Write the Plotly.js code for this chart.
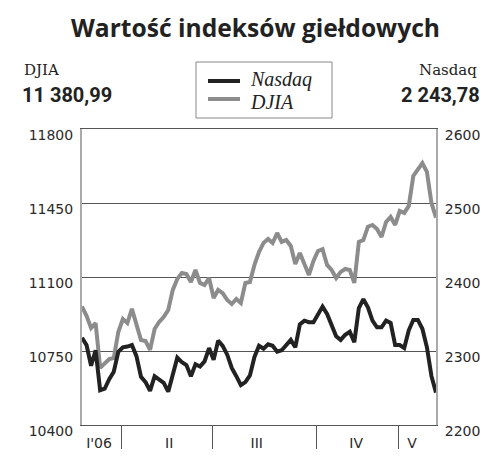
<!DOCTYPE html>
<html><head><meta charset="utf-8">
<script src="https://cdn.plot.ly/plotly-3.0.1.min.js"></script>
<style>html,body{margin:0;padding:0;background:#fff}#chart{width:500px;height:460px}</style>
</head><body><div id="chart"></div>
<script>
// Daily closes, mid-January to 12 May 2006
const nasdaq = [2318,2308,2280,2301,2247,2249,2262,2272,2299,2305,
  2306,2308,2293,2265,2258,2246,2266,2261,2257,2245,
  2270,2291,2285,2281,2266,2282,2279,2286,2304,2288,
  2314,2307,2295,2277,2266,2254,2258,2267,2292,2307,
  2303,2309,2307,2299,2301,2308,2315,2305,2336,2341,
  2339,2339,2349,2360,2350,2335,2320,2315,2322,2326,
  2312,2358,2370,2359,2341,2332,2332,2341,2338,2308,
  2308,2304,2328,2342,2342,2330,2305,2266,2243.78];
const djia = [10960,10916,10859,10882,10670,10693,10712,10717,10840,10901,
  10882,10949,10868,10802,10797,10755,10854,10887,10911,10944,
  11039,11091,11119,11114,11076,11133,11072,11062,11095,11001,
  11039,11024,10991,10972,10996,10977,11072,11076,11157,11218,
  11261,11280,11261,11308,11266,11275,11247,11162,11214,11157,
  11110,11176,11223,11232,11157,11133,11095,11124,11138,11133,
  11072,11266,11275,11338,11346,11327,11289,11360,11384,11346,
  11412,11403,11436,11578,11606,11639,11597,11450,11380.99];
const yLeftTicks = [10400, 10750, 11100, 11450, 11800];
const yRightTicks = [2200, 2300, 2400, 2500, 2600];
const monthLabels = ["I'06", "II", "III", "IV", "V"];
const monthLabelPos = [3.75, 19.2, 38.5, 60.4, 72.7];
const monthBoundaries = [8.6, 28.65, 51.6, 69.8];
const lastDjiaText = "11 380,99";
const lastNasdaqText = "2 243,78";
const titleText = "Wartość indeksów giełdowych";

const day = djia.map((_, i) => i);
const BLACK = '#222222', GREY = '#8c8c8c';
const tickFont = {family: 'DejaVu Sans', size: 14, color: '#2a2a2a'};

const traces = [
  {x: day, y: nasdaq, yaxis: 'y2', name: 'Nasdaq', type: 'scatter', mode: 'lines',
   line: {color: BLACK, width: 4}, hoverinfo: 'skip'},
  {x: day, y: djia, yaxis: 'y', name: 'DJIA', type: 'scatter', mode: 'lines',
   line: {color: GREY, width: 4}, hoverinfo: 'skip'}
];

const px = v => (v - 82) / 354;      // horizontal pixel -> paper
const py = v => (425 - v) / 296;     // vertical pixel -> paper

const layout = {
  width: 500, height: 460,
  margin: {l: 82, r: 64, t: 129, b: 35},
  paper_bgcolor: '#fff', plot_bgcolor: '#fff',
  showlegend: false,
  title: {text: titleText, x: 0.511, xanchor: 'center', y: 1 - 28/460, yanchor: 'middle',
          xref: 'container', yref: 'container',
          font: {family: 'Open Sans', size: 24.6, weight: 700, color: BLACK}},
  xaxis: {range: [0, day.length - 1], tickmode: 'array', tickvals: monthLabelPos, ticktext: monthLabels,
          ticks: '', showgrid: false, zeroline: false, showline: true, linecolor: '#555', linewidth: 1,
          mirror: true, tickfont: tickFont, ticklabelstandoff: 5,
          minor: {tickmode: 'array', tickvals: monthBoundaries, ticks: 'outside', ticklen: 23,
                  tickwidth: 1, tickcolor: '#555', showgrid: false}},
  yaxis: {range: [10400, 11800], tickmode: 'array', tickvals: yLeftTicks, tickformat: 'd', ticks: '',
          showgrid: true, gridcolor: '#555', gridwidth: 1, zeroline: false,
          showline: true, linecolor: '#aaa', linewidth: 2, tickfont: tickFont,
          ticklabelshift: 6, ticklabelstandoff: 4},
  yaxis2: {range: [2200, 2600], overlaying: 'y', side: 'right', tickmode: 'array', tickvals: yRightTicks,
           tickformat: 'd', ticks: '', showgrid: false, zeroline: false, showline: true, linecolor: '#aaa', linewidth: 2,
           tickfont: tickFont, ticklabelshift: 6, ticklabelstandoff: 4},
  shapes: [
    {type: 'rect', xref: 'paper', yref: 'paper', x0: px(196), x1: px(332), y0: py(118), y1: py(62),
     line: {color: '#888', width: 1}, fillcolor: 'rgba(0,0,0,0)'},
    {type: 'line', xref: 'paper', yref: 'paper', x0: px(208), x1: px(240), y0: py(81), y1: py(81),
     line: {color: BLACK, width: 4}},
    {type: 'line', xref: 'paper', yref: 'paper', x0: px(208), x1: px(240), y0: py(99), y1: py(99),
     line: {color: GREY, width: 4}}
  ],
  annotations: [
    {text: 'Nasdaq', xref: 'paper', yref: 'paper', x: px(248), y: py(79), xanchor: 'left', yanchor: 'middle',
     showarrow: false, font: {family: 'Liberation Serif', size: 20, style: 'italic', color: BLACK}},
    {text: 'DJIA', xref: 'paper', yref: 'paper', x: px(248), y: py(102), xanchor: 'left', yanchor: 'middle',
     showarrow: false, font: {family: 'Liberation Serif', size: 20, style: 'italic', color: BLACK}},
    {text: 'DJIA', xref: 'paper', yref: 'paper', x: px(22), y: py(70), xanchor: 'left', yanchor: 'middle',
     showarrow: false, font: {family: 'DejaVu Serif', size: 15, color: BLACK}},
    {text: lastDjiaText, xref: 'paper', yref: 'paper', x: px(20), y: py(95), xanchor: 'left', yanchor: 'middle',
     showarrow: false, font: {family: 'Roboto', size: 20, weight: 700, color: BLACK}},
    {text: 'Nasdaq', xref: 'paper', yref: 'paper', x: px(479), y: py(70), xanchor: 'right', yanchor: 'middle',
     showarrow: false, font: {family: 'DejaVu Serif', size: 15, color: BLACK}},
    {text: lastNasdaqText, xref: 'paper', yref: 'paper', x: px(482), y: py(95), xanchor: 'right', yanchor: 'middle',
     showarrow: false, font: {family: 'Roboto', size: 20, weight: 700, color: BLACK}}
  ]
};

Plotly.newPlot('chart', traces, layout, {staticPlot: true, displayModeBar: false});
</script>
</body></html>
